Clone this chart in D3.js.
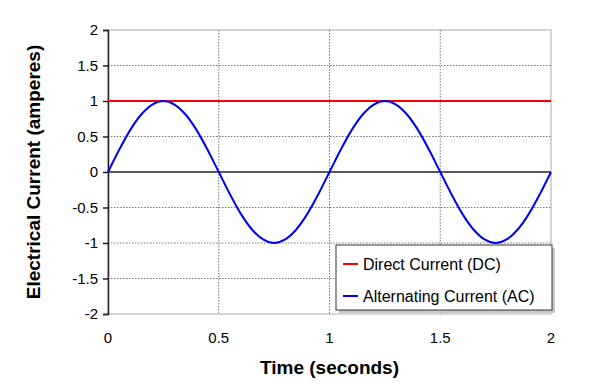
<!DOCTYPE html>
<html>
<head>
<meta charset="utf-8">
<script src="https://cdn.jsdelivr.net/npm/d3@7"></script>
<style>
  body { margin: 0; background: #fff; }
  text { font-family: Arial, "Liberation Sans", sans-serif; }
</style>
</head>
<body>
<div id="chart"></div>
<script>
// time samples (seconds) and the readings
var timeValues = [0, 0.05, 0.1, 0.15, 0.2, 0.25, 0.3, 0.35, 0.4, 0.45, 0.5,
    0.55, 0.6, 0.65, 0.7, 0.75, 0.8, 0.85, 0.9, 0.95, 1,
    1.05, 1.1, 1.15, 1.2, 1.25, 1.3, 1.35, 1.4, 1.45, 1.5,
    1.55, 1.6, 1.65, 1.7, 1.75, 1.8, 1.85, 1.9, 1.95, 2];
var acValues = [0, 0.31, 0.59, 0.81, 0.95, 1, 0.95, 0.81, 0.59, 0.31, 0,
    -0.31, -0.59, -0.81, -0.95, -1, -0.95, -0.81, -0.59, -0.31, 0,
    0.31, 0.59, 0.81, 0.95, 1, 0.95, 0.81, 0.59, 0.31, 0,
    -0.31, -0.59, -0.81, -0.95, -1, -0.95, -0.81, -0.59, -0.31, 0];
var dcTimes = [0, 2];
var dcValues = [1, 1];
var xTicks = [0, 0.5, 1, 1.5, 2];
var yTicks = [-2, -1.5, -1, -0.5, 0, 0.5, 1, 1.5, 2];
var seriesNames = ["Direct Current (DC)", "Alternating Current (AC)"];
var seriesColors = ["#ff0000", "#0000ff"];

var width = 598, height = 389;
var plotLeft = 108, plotRight = 551, plotTop = 30, plotBottom = 314;

var svg = d3.select("#chart").append("svg")
    .attr("width", width)
    .attr("height", height);

var x = d3.scaleLinear().domain([0, 2]).range([plotLeft, plotRight]);
var y = d3.scaleLinear().domain([-2, 2]).range([plotBottom, plotTop]);

// plot frame (light gray)
svg.append("rect")
    .attr("x", plotLeft).attr("y", plotTop)
    .attr("width", plotRight - plotLeft).attr("height", plotBottom - plotTop)
    .attr("fill", "#fff")
    .attr("stroke", "#c8c8c8")
    .attr("stroke-width", 1.5);

// dotted grid
svg.append("g").selectAll("line")
    .data(yTicks.filter(d => d !== 0 && d !== 2 && d !== -2))
    .enter().append("line")
    .attr("x1", plotLeft).attr("x2", plotRight)
    .attr("y1", d => y(d)).attr("y2", d => y(d))
    .attr("stroke", "#777")
    .attr("stroke-dasharray", "1.5,1.5");

svg.append("g").selectAll("line")
    .data(xTicks.filter(d => d !== 0 && d !== 2))
    .enter().append("line")
    .attr("x1", d => x(d)).attr("x2", d => x(d))
    .attr("y1", plotTop).attr("y2", plotBottom)
    .attr("stroke", "#777")
    .attr("stroke-dasharray", "1.5,1.5");

// zero line
svg.append("line")
    .attr("x1", plotLeft).attr("x2", plotRight)
    .attr("y1", y(0)).attr("y2", y(0))
    .attr("stroke", "#222")
    .attr("stroke-width", 1.5);

// y axis with outward ticks
var yAxis = svg.append("g")
    .attr("transform", "translate(" + plotLeft + ",0)")
    .call(d3.axisLeft(y).tickValues(yTicks).tickSize(5).tickPadding(5).tickFormat(d => d));
yAxis.select(".domain").attr("stroke", "#222").attr("stroke-width", 1.5);
yAxis.selectAll(".tick line").attr("stroke", "#222").attr("stroke-width", 1.5);
yAxis.selectAll("text").style("font-size", "15px").attr("fill", "#000");

// x tick labels at the bottom
svg.append("g").selectAll("text")
    .data(xTicks)
    .enter().append("text")
    .attr("x", d => x(d))
    .attr("y", 343)
    .attr("text-anchor", "middle")
    .style("font-size", "15px")
    .text(d => d);

// series
var line = d3.line()
    .x(d => x(d[0]))
    .y(d => y(d[1]));

svg.append("path")
    .datum(d3.zip(dcTimes, dcValues))
    .attr("d", line)
    .attr("fill", "none")
    .attr("stroke", seriesColors[0])
    .attr("stroke-width", 2);

svg.append("path")
    .datum(d3.zip(timeValues, acValues))
    .attr("d", line.curve(d3.curveCardinal))
    .attr("fill", "none")
    .attr("stroke", seriesColors[1])
    .attr("stroke-width", 2);

// axis titles
svg.append("text")
    .attr("x", (plotLeft + plotRight) / 2)
    .attr("y", 374)
    .attr("text-anchor", "middle")
    .style("font-size", "19px")
    .style("font-weight", "bold")
    .text("Time (seconds)");

svg.append("text")
    .attr("transform", "translate(40," + ((plotTop + plotBottom) / 2) + ") rotate(-90)")
    .attr("text-anchor", "middle")
    .style("font-size", "19px")
    .style("font-weight", "bold")
    .text("Electrical Current (amperes)");

// legend
var legend = svg.append("g").attr("transform", "translate(336,245)");
legend.append("rect")
    .attr("x", 3).attr("y", 3)
    .attr("width", 216).attr("height", 65)
    .attr("fill", "#c8c8c8");
legend.append("rect")
    .attr("width", 216).attr("height", 65)
    .attr("fill", "#fff")
    .attr("stroke", "#333")
    .attr("stroke-width", 1);

var entries = legend.selectAll("g.entry")
    .data(seriesNames)
    .enter().append("g")
    .attr("class", "entry")
    .attr("transform", (d, i) => "translate(0," + (19 + i * 32) + ")");
entries.append("line")
    .attr("x1", 7).attr("x2", 22)
    .attr("stroke", (d, i) => seriesColors[i])
    .attr("stroke-width", 2);
entries.append("text")
    .attr("x", 27)
    .attr("y", 6)
    .style("font-size", "16px")
    .text(d => d);
</script>
</body>
</html>
